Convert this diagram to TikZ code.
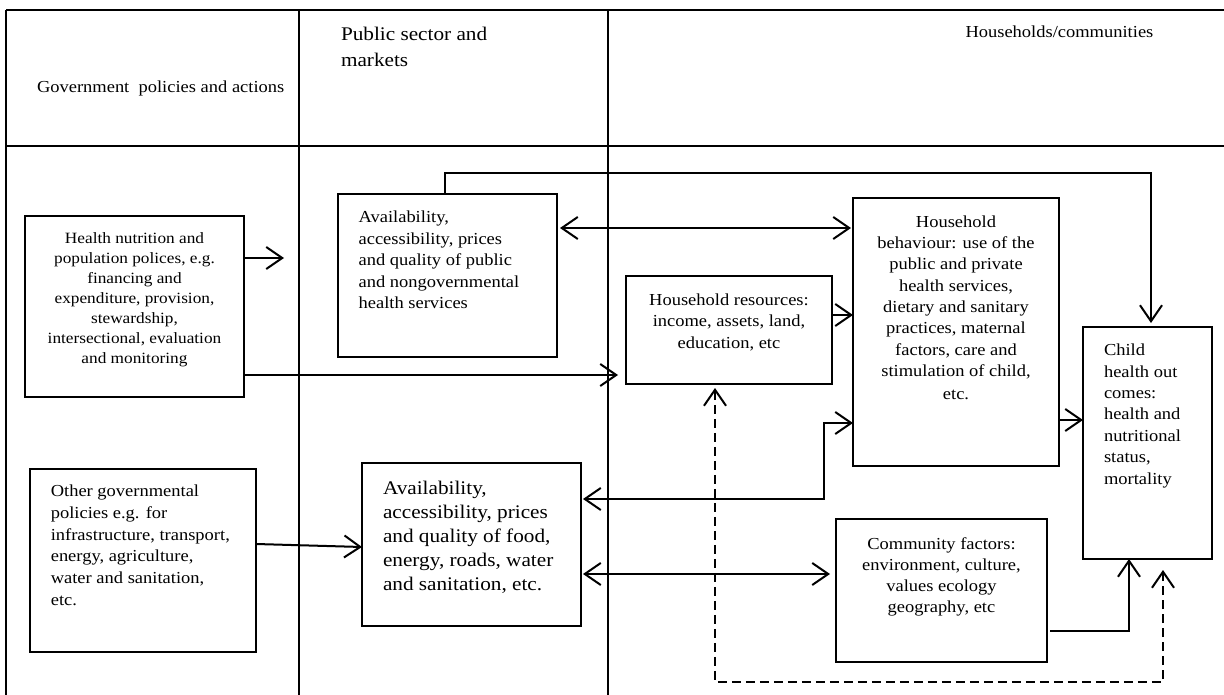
\documentclass[tikz,border=0pt]{standalone}
\usepackage{fontspec}
\setmainfont{Liberation Serif}[FakeStretch=1.1]
\usetikzlibrary{arrows.meta,calc}
\begin{document}
\begin{tikzpicture}[x=1pt,y=-1pt,
  every node/.style={inner sep=0pt, outer sep=0pt},
  box/.style={draw, line width=2pt, rectangle},
  txt/.style={font=\fontsize{16.8}{21.5}\selectfont},
  ln/.style={line width=2pt},
  barb/.tip={Straight Barb[length=16pt,width=22pt,line width=2pt]},
  arr/.style={ln, -barb},
  darr/.style={ln, barb-barb},
]
\useasboundingbox (0,0) rectangle (1224,695);
% frame
\draw[ln] (6,10) -- (1224,10);
\draw[ln] (6,146) -- (1224,146);
\draw[ln] (6,10) -- (6,695);
\draw[ln] (299,10) -- (299,695);
\draw[ln] (608,10) -- (608,695);
% headers
\node[txt, anchor=base west] (h1) at (37,93) {Government\ \ policies and actions};
\node[txt, font=\fontsize{19.3}{26}\selectfont, align=left, anchor=north west] (h2) at (341,27) {Public sector and\\markets};
\node[txt, anchor=base west] (h3) at (965.5,37.5) {Households/communities};
% boxes
\node[box, minimum width=219pt, minimum height=181pt] (hn) at (134.5,306.5) {};
\node[box, minimum width=219pt, minimum height=163pt] (ps) at (447.5,275.5) {};
\node[box, minimum width=206pt, minimum height=268pt] (hb) at (956,332) {};
\node[box, minimum width=206pt, minimum height=108pt] (hr) at (729,330) {};
\node[box, minimum width=129pt, minimum height=232pt] (ch) at (1147.5,443) {};
\node[box, minimum width=226pt, minimum height=183pt] (og) at (143,560.5) {};
\node[box, minimum width=219pt, minimum height=163pt] (fd) at (471.5,544.5) {};
\node[box, minimum width=211pt, minimum height=143pt] (cf) at (941.5,590.5) {};
% texts
\node[txt, font=\fontsize{15.7}{20}\selectfont, align=center, anchor=north] (hnt) at (134.5,232.3)
 {Health nutrition and\\population polices, e.g.\\financing and\\expenditure, provision,\\stewardship,\\intersectional, evaluation\\and monitoring};
\node[txt, align=left, anchor=north west] (pst) at (358.6,211.1)
 {Availability,\\accessibility, prices\\and quality of public\\and nongovernmental\\health services};
\node[txt, font=\fontsize{16.8}{21.3}\selectfont, align=center, anchor=north] (hbt) at (956,215.6)
 {Household\\behaviour: use of the\\public and private\\health services,\\dietary and sanitary\\practices, maternal\\factors, care and\\stimulation of child,\\[2pt]etc.};
\node[txt, font=\fontsize{16.8}{21.7}\selectfont, align=center, anchor=north] (hrt) at (729,293.6)
 {Household resources:\\income, assets, land,\\education, etc};
\node[txt, font=\fontsize{16.8}{21.4}\selectfont, align=left, anchor=north west] (cht) at (1104,344.1)
 {Child\\health out\\comes:\\health and\\nutritional\\status,\\mortality};
\node[txt, font=\fontsize{16.8}{21.9}\selectfont, align=left, anchor=north west] (ogt) at (50.8,484.6)
 {Other governmental\\policies e.g. for\\infrastructure, transport,\\energy, agriculture,\\water and sanitation,\\etc.};
\node[txt, font=\fontsize{19.3}{24}\selectfont, align=left, anchor=north west] (fdt) at (383,480.7)
 {Availability,\\accessibility, prices\\and quality of food,\\energy, roads, water\\and sanitation, etc.};
\node[txt, font=\fontsize{16.8}{21.1}\selectfont, align=center, anchor=north] (cft) at (941.5,537.6)
 {Community factors:\\environment, culture,\\values ecology\\geography, etc};
% connectors
\coordinate (a1e) at (284,258);
\draw[arr] (hn.east |- a1e) -- (a1e);
\draw[arr] (hn.east |- 0,375) -- ($(hr.west |- 0,375)+(-8,0)$);
\draw[darr] ($(ps.east |- 0,228)+(3,0)$) -- ($(hb.west |- 0,228)+(-2,0)$);
\draw[arr] (hr.east |- 0,315) -- (hb.west |- 0,315);
\coordinate (k1) at (824,423);
\draw[darr] ($(fd.east |- 0,499)+(2,0)$) -| (k1) -- (hb.west |- k1);
\draw[darr] ($(fd.east |- 0,574)+(2,0)$) -- ($(cf.west |- 0,574)+(-6,0)$);
\draw[arr] (og.east |- 0,544) -- (fd.west |- 0,547);
\draw[arr] (hb.east |- 0,420) -- (ch.west |- 0,420);
\coordinate (k3) at (1129,631);
\draw[arr] ($(cf.east |- k3)+(3,0)$) -- (k3) -- (ch.south -| k3);
\coordinate (k2) at (1151,173);
\draw[arr] ($(ps.north)+(-3,0)$) |- (k2) -- ($(ch.north -| k2)+(0,-4)$);
\coordinate (d1) at (715,682);
\coordinate (d2) at (1163,682);
\draw[darr, dash pattern=on 9pt off 5pt] ($(hr.south -| d1)+(0,4)$) -- (d1) -- (d2) -- ($(ch.south -| d2)+(0,11)$);
\end{tikzpicture}
\end{document}
